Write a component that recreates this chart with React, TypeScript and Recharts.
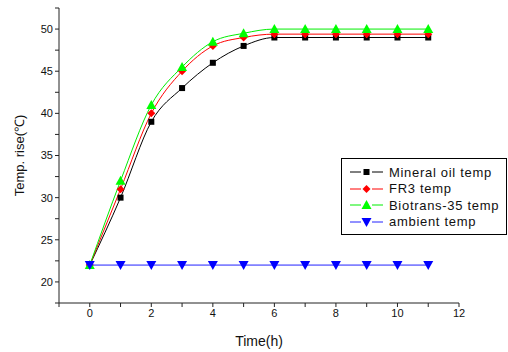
import { LineChart, Line, XAxis, YAxis, Legend } from 'recharts'

const hours = [0, 1, 2, 3, 4, 5, 6, 7, 8, 9, 10, 11]
const mineralOil = [22, 30, 39, 43, 46, 48, 49, 49, 49, 49, 49, 49]
const fr3 = [22, 31, 40, 45, 48, 49, 49.4, 49.4, 49.4, 49.4, 49.4, 49.4]
const biotrans = [22, 32, 41, 45.5, 48.5, 49.5, 50, 50, 50, 50, 50, 50]
const ambient = [22, 22, 22, 22, 22, 22, 22, 22, 22, 22, 22, 22]

const xTicks = [-1, 0, 1, 2, 3, 4, 5, 6, 7, 8, 9, 10, 11, 12]
const yTicks = [17.5, 20, 22.5, 25, 27.5, 30, 32.5, 35, 37.5, 40, 42.5, 45, 47.5, 50, 52.5]

const data = hours.map((h, i) => ({
  h,
  mineral: mineralOil[i],
  fr3: fr3[i],
  bio: biotrans[i],
  amb: ambient[i],
}))

type Shape = 'square' | 'diamond' | 'up' | 'down'

const series: { key: string; name: string; color: string; lineColor: string; shape: Shape }[] = [
  { key: 'mineral', name: 'Mineral oil temp', color: '#000000', lineColor: '#000000', shape: 'square' },
  { key: 'fr3', name: 'FR3 temp', color: '#ff0000', lineColor: '#ff0000', shape: 'diamond' },
  { key: 'bio', name: 'Biotrans-35 temp', color: '#00ff00', lineColor: '#00ee00', shape: 'up' },
  { key: 'amb', name: 'ambient temp', color: '#0000ff', lineColor: '#2222ff', shape: 'down' },
]

function Marker({ cx, cy, shape, color }: { cx: number; cy: number; shape: Shape; color: string }) {
  if (cx == null || cy == null) return null
  if (shape === 'square') return <rect x={cx - 3} y={cy - 3} width={6} height={6} fill={color} />
  if (shape === 'diamond')
    return <polygon points={`${cx},${cy - 4} ${cx + 4},${cy} ${cx},${cy + 4} ${cx - 4},${cy}`} fill={color} />
  if (shape === 'up')
    return <polygon points={`${cx},${cy - 5} ${cx + 5},${cy + 4} ${cx - 5},${cy + 4}`} fill={color} />
  return <polygon points={`${cx - 5},${cy - 4} ${cx + 5},${cy - 4} ${cx},${cy + 5}`} fill={color} />
}

function LegendBox() {
  return (
    <div
      style={{
        border: '1px solid #000',
        background: '#fff',
        width: 166,
        padding: '5px 0 4px 0',
        boxSizing: 'border-box',
      }}
    >
      {series.map(s => (
        <div key={s.key} style={{ display: 'flex', alignItems: 'center', height: 16.5 }}>
          <svg width={34} height={14} style={{ marginLeft: 8 }}>
            <line x1={0} y1={7} x2={11} y2={7} stroke={s.lineColor} strokeWidth={1} />
            <line x1={22} y1={7} x2={33} y2={7} stroke={s.lineColor} strokeWidth={1} />
            <Marker cx={16.5} cy={7} shape={s.shape} color={s.color} />
          </svg>
          <span style={{ fontSize: 13, color: '#111', marginLeft: 5, letterSpacing: 0.7 }}>{s.name}</span>
        </div>
      ))}
    </div>
  )
}

export default function App() {
  return (
    <div style={{ position: 'absolute', left: 0, top: 0, background: '#fff', fontFamily: 'Arial, "Liberation Sans", sans-serif' }}>
      <LineChart width={508} height={352} data={data} margin={{ top: 8, right: 49, bottom: 0, left: 0 }}>
        <XAxis
          dataKey="h"
          type="number"
          domain={[-1, 12]}
          ticks={xTicks}
          interval={0}
          tickFormatter={(v: number) => (v % 2 === 0 && v >= 0 ? String(v) : '')}
          height={49}
          stroke="#222"
          tickSize={4}
          tick={{ fontSize: 11, fill: '#111' }}
          label={{ value: 'Time(h)', position: 'insideBottom', offset: 6, fontSize: 14, fill: '#111' }}
        />
        <YAxis
          type="number"
          domain={[17.5, 52.5]}
          ticks={yTicks}
          interval={0}
          tickFormatter={(v: number) => (v % 5 === 0 ? String(v) : '')}
          width={59}
          stroke="#222"
          tickSize={4}
          tick={{ fontSize: 11, fill: '#111' }}
          label={{ value: 'Temp. rise(℃)', angle: -90, position: 'insideLeft', offset: 19, fontSize: 13, fill: '#111', style: { textAnchor: 'middle' } }}
        />
        <Legend
          layout="horizontal"
          verticalAlign="middle"
          align="center"
          content={() => <LegendBox />}
          wrapperStyle={{ left: 341, top: 158, width: 166 }}
        />
        {series.map(s => (
          <Line
            key={s.key}
            dataKey={s.key}
            name={s.name}
            type={s.key === 'amb' ? 'linear' : 'monotone'}
            stroke={s.lineColor}
            strokeWidth={1}
            isAnimationActive={false}
            dot={(p: any) => <Marker key={`${s.key}-${p.index}`} cx={p.cx} cy={p.cy} shape={s.shape} color={s.color} />}
            activeDot={false}
          />
        ))}
      </LineChart>
    </div>
  )
}
